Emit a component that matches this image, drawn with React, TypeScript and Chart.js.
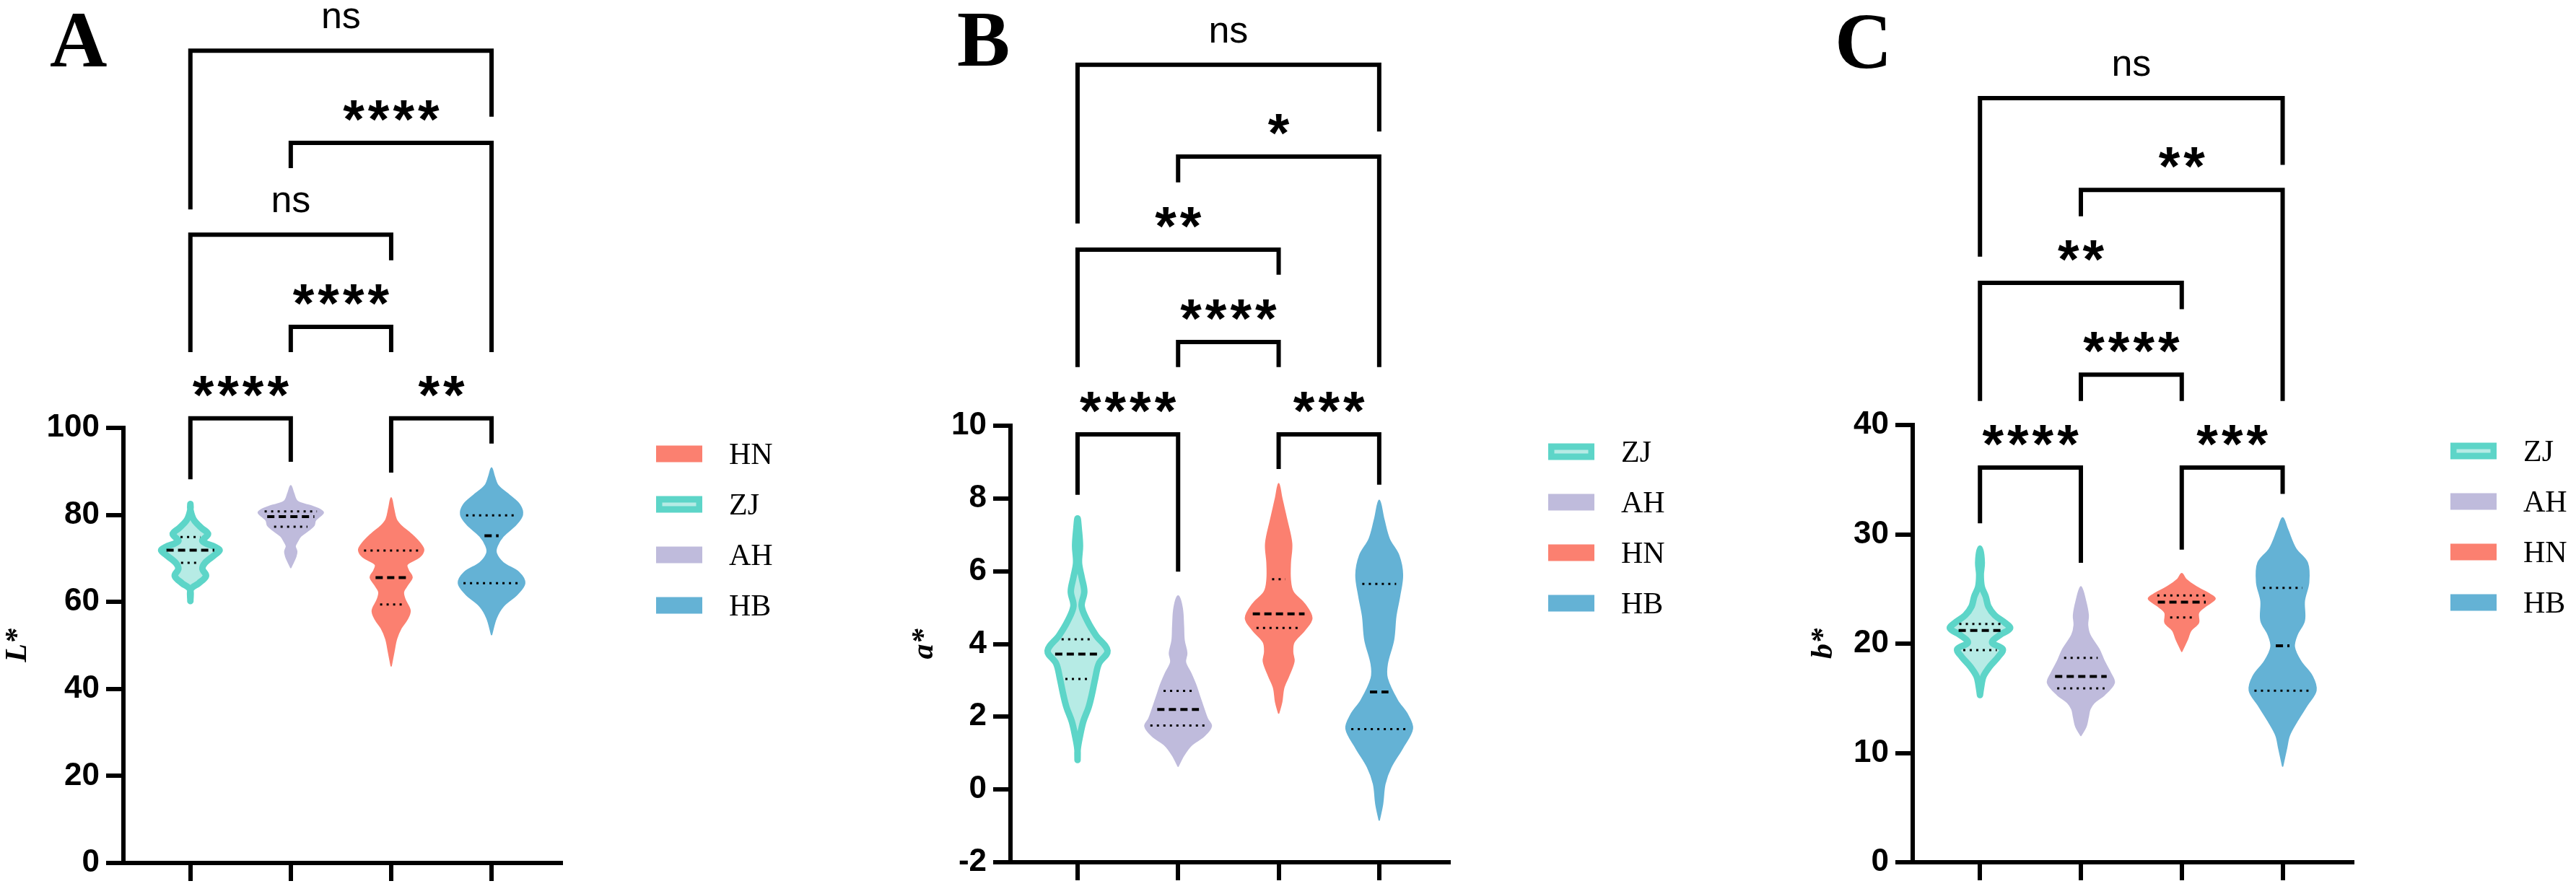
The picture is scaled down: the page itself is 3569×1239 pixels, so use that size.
import React, { useEffect, useRef } from 'react';
import { Chart, registerables } from 'chart.js';

Chart.register(...registerables);

// ---------------- DATA ----------------
const CATEGORIES = ['ZJ', 'AH', 'HN', 'HB'];

// Violin outlines, top to bottom: [value, relative half-width (0..1)]
const A_ZJ = [[82.5, 0], [81.2, 0.09], [78.9, 0.2], [77.0, 0.43], [75.6, 0.63], [74.0, 0.46], [72.6, 0.85], [71.9, 0.98], [70.9, 0.85], [69.0, 0.54], [67.6, 0.46], [66.0, 0.57], [64.3, 0.35], [62.9, 0.11], [60.2, 0]];
const A_AH = [[86.7, 0], [85.1, 0.08], [83.1, 0.2], [82.0, 0.63], [81.2, 0.89], [80.5, 0.98], [79.5, 0.85], [78.7, 0.74], [77.6, 0.7], [76.5, 0.54], [75.1, 0.3], [73.9, 0.2], [72.8, 0.13], [71.6, 0.18], [70.4, 0.15], [69.2, 0.08], [67.9, 0]];
const A_HN = [[83.9, 0], [81.5, 0.07], [79.0, 0.15], [77.5, 0.3], [75.6, 0.6], [73.4, 0.88], [71.9, 0.98], [70.3, 0.85], [68.6, 0.48], [67.2, 0.52], [65.7, 0.63], [64.0, 0.5], [62.3, 0.37], [60.5, 0.42], [58.0, 0.57], [56.0, 0.48], [54.0, 0.3], [51.5, 0.16], [48.5, 0.08], [45.3, 0]];
const A_HB = [[90.8, 0], [88.9, 0.08], [86.7, 0.2], [84.5, 0.54], [82.3, 0.85], [80.0, 0.93], [77.8, 0.74], [75.1, 0.35], [72.9, 0.17], [71.2, 0.14], [69.0, 0.35], [66.8, 0.82], [64.3, 1.0], [61.8, 0.78], [59.0, 0.35], [56.3, 0.14], [52.5, 0]];

const B_ZJ = [[7.45, 0], [7.2, 0.13], [6.7, 0.17], [6.23, 0.14], [5.84, 0.22], [5.44, 0.3], [5.04, 0.22], [4.64, 0.39], [4.24, 0.65], [3.81, 1.0], [3.46, 0.74], [3.06, 0.63], [2.66, 0.54], [2.26, 0.43], [1.87, 0.27], [1.47, 0.17], [1.1, 0.1], [0.81, 0]];
const B_AH = [[5.32, 0], [5.0, 0.12], [4.5, 0.16], [4.1, 0.18], [3.75, 0.26], [3.5, 0.22], [3.2, 0.38], [2.9, 0.52], [2.55, 0.65], [2.2, 0.78], [1.95, 0.88], [1.74, 1.0], [1.47, 0.78], [1.21, 0.39], [0.94, 0.17], [0.64, 0]];
const B_HN = [[8.41, 0], [8.02, 0.09], [7.42, 0.24], [6.76, 0.39], [6.23, 0.35], [5.77, 0.35], [5.44, 0.43], [5.1, 0.78], [4.71, 1.0], [4.38, 0.78], [4.05, 0.46], [3.78, 0.42], [3.52, 0.46], [3.12, 0.3], [2.79, 0.15], [2.4, 0.09], [2.1, 0]];
const B_HB = [[7.95, 0], [7.42, 0.14], [6.89, 0.3], [6.43, 0.59], [5.9, 0.7], [5.3, 0.61], [4.77, 0.5], [4.11, 0.43], [3.45, 0.24], [3.06, 0.24], [2.46, 0.54], [2.06, 0.85], [1.67, 1.0], [1.14, 0.7], [0.61, 0.35], [0.15, 0.17], [-0.4, 0.1], [-0.84, 0]];

const C_ZJ = [[28.7, 0], [27.4, 0.15], [26.3, 0.12], [25.2, 0.15], [24.3, 0.27], [23.4, 0.35], [22.6, 0.54], [21.9, 0.85], [21.4, 1.0], [20.8, 0.7], [20.1, 0.46], [19.5, 0.78], [18.8, 0.65], [17.9, 0.39], [17.0, 0.2], [16.2, 0.14], [15.3, 0]];
const C_AH = [[25.2, 0], [23.9, 0.14], [22.6, 0.22], [21.7, 0.2], [20.8, 0.27], [19.5, 0.54], [18.4, 0.7], [17.3, 0.89], [16.4, 1.0], [15.3, 0.7], [14.6, 0.4], [14.0, 0.27], [13.3, 0.22], [12.4, 0.15], [11.6, 0]];
const C_HN = [[26.4, 0], [25.9, 0.12], [25.2, 0.43], [24.5, 0.85], [24.1, 1.0], [23.4, 0.7], [22.8, 0.5], [21.9, 0.5], [21.2, 0.27], [20.4, 0.17], [19.3, 0]];
const C_HB = [[31.5, 0], [30.5, 0.14], [28.7, 0.39], [27.4, 0.74], [25.6, 0.78], [23.9, 0.65], [22.1, 0.65], [20.8, 0.43], [19.7, 0.35], [18.4, 0.54], [17.0, 0.89], [15.7, 1.0], [14.4, 0.74], [12.9, 0.43], [11.6, 0.2], [10.5, 0.12], [8.8, 0]];

// Quartiles (ZJ, AH, HN, HB)
const A_Q1 = [69.0, 77.3, 59.4, 64.3];
const A_MEDIAN = [71.9, 79.6, 65.6, 75.2];
const A_Q3 = [74.9, 80.8, 71.8, 79.9];
const B_Q1 = [3.04, 1.76, 4.44, 1.66];
const B_MEDIAN = [3.72, 2.2, 4.83, 2.68];
const B_Q3 = [4.13, 2.71, 5.78, 5.65];
const C_Q1 = [19.4, 15.9, 22.4, 15.7];
const C_MEDIAN = [21.2, 17.0, 23.8, 19.8];
const C_Q3 = [21.8, 18.7, 24.4, 25.1];

// Significance comparisons (category index pairs)
const PAIRS = [[0, 1], [2, 3], [1, 2], [0, 2], [1, 3], [0, 3]];
const A_SIG = ['****', '**', '****', 'ns', '****', 'ns'];
const A_BAR_Y = [102.2, 102.2, 123.2, 144.4, 165.5, 186.7];
const A_LEFT_END = [88.2, 89.7, 117.4, 117.4, 159.7, 150.2];
const A_RIGHT_END = [92.2, 96.4, 117.4, 138.5, 117.4, 171.5];
const B_SIG = ['****', '***', '****', '**', '*', 'ns'];
const B_BAR_Y = [9.76, 9.76, 12.3, 14.84, 17.4, 19.92];
const B_LEFT_END = [8.1, 8.81, 11.61, 11.61, 16.69, 15.56];
const B_RIGHT_END = [5.99, 8.38, 11.61, 14.15, 11.61, 18.09];
const C_SIG = ['****', '***', '****', '**', '**', 'ns'];
const C_BAR_Y = [36.1, 36.1, 44.6, 53.0, 61.5, 69.9];
const C_LEFT_END = [31.0, 28.6, 42.2, 42.2, 59.1, 55.4];
const C_RIGHT_END = [27.4, 33.7, 42.2, 50.6, 42.2, 63.8];

const A_LEGEND = ['HN', 'ZJ', 'AH', 'HB'];
const BC_LEGEND = ['ZJ', 'AH', 'HN', 'HB'];

// ---------------- STYLE ----------------
const COLORS: Record<string, string> = { ZJ: '#5DD5C8', AH: '#BFBBDC', HN: '#FB8070', HB: '#64B2D5' };
const ZJ_FILL = '#B6EBE5';
const MAXW = 0.33;
const ZJ_INSET = 0.032;
const H = 1239;
const SANS = '"Liberation Sans", Arial, sans-serif';
const SERIF = '"Liberation Serif", "Times New Roman", serif';
const STAR_FONT = `bold 76px ${SANS}`;
const STAR_SPACING = 5;
const NS_FONT = `52px ${SANS}`;
const LABEL_GAP = 30;

const PANELS = [
  { letter: 'A', title: 'L*', left: 0, w: 1190, cl: 171, cr: 777, ct: 593, cb: 1196, tx: 25, lx: 69, ly: 92, legDX: 132,
    yMin: 0, yMax: 100, yStep: 20, profiles: [A_ZJ, A_AH, A_HN, A_HB], q1: A_Q1, med: A_MEDIAN, q3: A_Q3,
    sig: A_SIG, bar: A_BAR_Y, le: A_LEFT_END, re: A_RIGHT_END, legend: A_LEGEND },
  { letter: 'B', title: 'a*', left: 1190, w: 1200, cl: 210, cr: 817, ct: 590, cb: 1195, tx: 91, lx: 136, ly: 91, legDX: 138,
    yMin: -2, yMax: 10, yStep: 2, profiles: [B_ZJ, B_AH, B_HN, B_HB], q1: B_Q1, med: B_MEDIAN, q3: B_Q3,
    sig: B_SIG, bar: B_BAR_Y, le: B_LEFT_END, re: B_RIGHT_END, legend: BC_LEGEND },
  { letter: 'C', title: 'b*', left: 2390, w: 1179, cl: 260, cr: 869, ct: 589, cb: 1195, tx: 137, lx: 152, ly: 94, legDX: 136,
    yMin: 0, yMax: 40, yStep: 10, profiles: [C_ZJ, C_AH, C_HN, C_HB], q1: C_Q1, med: C_MEDIAN, q3: C_Q3,
    sig: C_SIG, bar: C_BAR_Y, le: C_LEFT_END, re: C_RIGHT_END, legend: BC_LEGEND },
];

function widthAt(profile: number[][], v: number): number {
  for (let k = 0; k < profile.length - 1; k++) {
    const [v1, d1] = profile[k];
    const [v2, d2] = profile[k + 1];
    if (v <= v1 && v >= v2) {
      const t = (v1 - v) / (v1 - v2 || 1);
      return d1 + (d2 - d1) * t;
    }
  }
  return 0;
}

function violinPoints(profile: number[][], cat: number, inset: number) {
  const hw = (d: number) => Math.max(0, d * MAXW - inset);
  const right = profile.slice().reverse().map(([v, d]) => ({ x: cat + hw(d), y: v }));
  const left = profile.map(([v, d]) => ({ x: cat - hw(d), y: v }));
  return right.concat(left.slice(1));
}

function buildDatasets(p: any) {
  const ds: any[] = [];
  CATEGORIES.forEach((name, i) => {
    const isZJ = name === 'ZJ';
    ds.push({
      label: name,
      data: violinPoints(p.profiles[i], i, isZJ ? ZJ_INSET : 0),
      borderColor: COLORS[name],
      backgroundColor: isZJ ? ZJ_FILL : COLORS[name],
      borderWidth: isZJ ? 9 : 2,
      fill: 'shape',
      tension: 0.35,
      pointRadius: 0,
      pointHoverRadius: 0,
      borderJoinStyle: 'round',
      borderCapStyle: 'round',
      clip: false,
      order: 2,
    });
    const inner = isZJ ? 0.085 : 0.05;
    const lines: [number, number[], number][] = [[p.q1[i], [3, 6], 3], [p.med[i], [10, 6], 4], [p.q3[i], [3, 6], 3]];
    lines.forEach(([q, dash, bw]) => {
      const hw = widthAt(p.profiles[i], q) * MAXW - inner;
      if (hw <= 0.005) return;
      ds.push({
        label: '',
        data: [{ x: i - hw, y: q }, { x: i + hw, y: q }],
        borderColor: '#000',
        borderWidth: bw,
        borderDash: dash,
        borderCapStyle: 'butt',
        pointRadius: 0,
        pointHoverRadius: 0,
        fill: false,
        tension: 0,
        clip: false,
        order: 1,
      });
    });
  });
  PAIRS.forEach(([i, j], k) => {
    ds.push({
      label: '',
      data: [{ x: i, y: p.le[k] }, { x: i, y: p.bar[k] }, { x: j, y: p.bar[k] }, { x: j, y: p.re[k] }],
      borderColor: '#000',
      borderWidth: 6,
      borderJoinStyle: 'miter',
      borderCapStyle: 'butt',
      pointRadius: 0,
      pointHoverRadius: 0,
      fill: false,
      tension: 0,
      clip: false,
      order: 0,
    });
  });
  return ds;
}

function Panel({ p }: { p: any }) {
  const ref = useRef<HTMLCanvasElement>(null);
  useEffect(() => {
    const canvas = ref.current;
    if (!canvas) return;
    const annotate = {
      id: 'annotate',
      afterDatasetsDraw(chart: any) {
        const ctx = chart.ctx;
        const xs = chart.scales.x;
        const ys = chart.scales.y;
        const area = chart.chartArea;
        ctx.save();
        ctx.fillStyle = '#000';
        ctx.textAlign = 'center';
        ctx.textBaseline = 'alphabetic';
        PAIRS.forEach(([i, j], k) => {
          const label = p.sig[k];
          let cx = (xs.getPixelForValue(i) + xs.getPixelForValue(j)) / 2;
          const bottom = ys.getPixelForValue(p.bar[k]) - LABEL_GAP;
          if (label === 'ns') {
            ctx.font = NS_FONT;
            (ctx as any).letterSpacing = '0px';
          } else {
            ctx.font = STAR_FONT;
            (ctx as any).letterSpacing = STAR_SPACING + 'px';
            cx += STAR_SPACING / 2;
          }
          const m = ctx.measureText(label);
          ctx.fillText(label, cx, bottom - m.actualBoundingBoxDescent);
        });
        (ctx as any).letterSpacing = '0px';
        // legend
        const x0 = area.right + p.legDX;
        p.legend.forEach((name: string, k: number) => {
          const cy = area.top + 36 + k * 70;
          ctx.fillStyle = COLORS[name];
          ctx.fillRect(x0, cy - 11.5, 64, 23);
          if (name === 'ZJ') {
            ctx.fillStyle = ZJ_FILL;
            ctx.fillRect(x0 + 8.5, cy - 2.5, 47, 5);
          }
          ctx.fillStyle = '#000';
          ctx.font = `42px ${SERIF}`;
          ctx.textAlign = 'left';
          ctx.fillText(name, x0 + 101, cy + 14);
        });
        // y-axis title, centred on the plot area
        ctx.save();
        ctx.translate(p.tx, (area.top + area.bottom) / 2);
        ctx.rotate(-Math.PI / 2);
        ctx.font = `italic bold 42px ${SERIF}`;
        ctx.textAlign = 'center';
        ctx.textBaseline = 'middle';
        ctx.fillText(p.title, 0, 0);
        ctx.restore();
        // panel letter
        ctx.font = `bold 110px ${SERIF}`;
        ctx.textAlign = 'left';
        ctx.fillText(p.letter, p.lx, p.ly);
        ctx.restore();
      },
    };
    const chart = new Chart(canvas, {
      type: 'line',
      data: { datasets: buildDatasets(p) },
      options: {
        responsive: false,
        maintainAspectRatio: false,
        animation: false,
        devicePixelRatio: 1,
        events: [],
        layout: { padding: { left: 0, top: p.ct, right: p.w - p.cr, bottom: H - p.cb - 40 } },
        plugins: { legend: { display: false }, tooltip: { enabled: false }, title: { display: false } },
        scales: {
          x: {
            type: 'linear',
            min: -0.667,
            max: 3.69,
            afterBuildTicks: (axis: any) => { axis.ticks = [0, 1, 2, 3].map((v) => ({ value: v })); },
            afterFit: (scale: any) => { scale.height = 40; },
            ticks: { display: false },
            grid: { drawOnChartArea: false, drawTicks: true, tickLength: 25, tickWidth: 6, tickColor: '#000', color: '#000', lineWidth: 6 },
            border: { display: true, color: '#000', width: 6 },
          },
          y: {
            type: 'linear',
            min: p.yMin,
            max: p.yMax,
            afterFit: (scale: any) => { scale.width = p.cl; },
            ticks: { stepSize: p.yStep, color: '#000', padding: 9, font: { family: SANS, size: 44, weight: 'bold' } },
            grid: { drawOnChartArea: false, drawTicks: true, tickLength: 24, tickWidth: 6, tickColor: '#000', color: '#000', lineWidth: 6 },
            border: { display: true, color: '#000', width: 6 },
            title: { display: false },
          },
        },
      } as any,
      plugins: [annotate],
    });
    return () => chart.destroy();
  }, []);
  return (
    <canvas
      ref={ref}
      width={p.w}
      height={H}
      style={{ position: 'absolute', left: p.left, top: 0, width: p.w, height: H }}
    />
  );
}

export default function App() {
  useEffect(() => {
    document.body.style.margin = '0';
    document.body.style.overflow = 'hidden';
  }, []);
  return (
    <div style={{ position: 'absolute', left: 0, top: 0, width: 3569, height: H, background: '#fff', overflow: 'hidden' }}>
      {PANELS.map((p) => (
        <Panel key={p.letter} p={p} />
      ))}
    </div>
  );
}
